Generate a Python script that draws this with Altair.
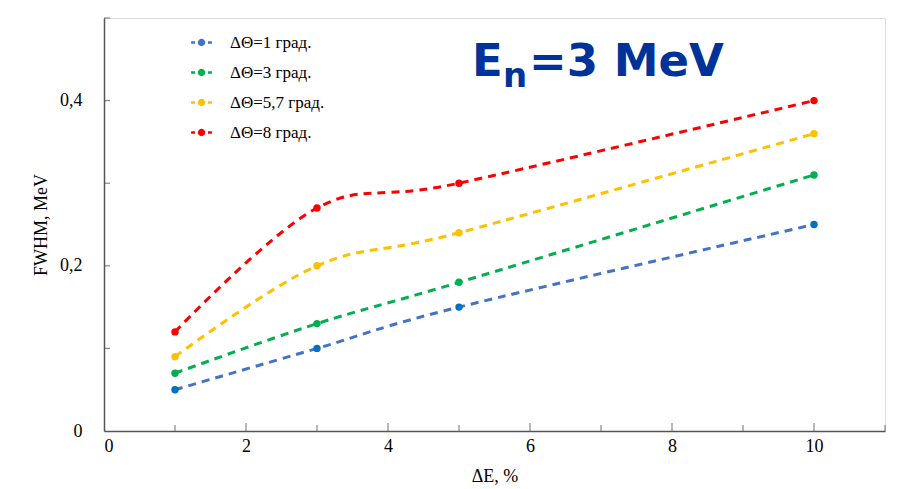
import altair as alt
import pandas as pd

series_names = ["ΔΘ=1 град.", "ΔΘ=3 град.", "ΔΘ=5,7 град.", "ΔΘ=8 град."]
delta_e = [1, 3, 5, 10]
fwhm_1 = [0.05, 0.10, 0.15, 0.25]
fwhm_3 = [0.07, 0.13, 0.18, 0.31]
fwhm_57 = [0.09, 0.20, 0.24, 0.36]
fwhm_8 = [0.12, 0.27, 0.30, 0.40]
line_colors = ["#4472C4", "#00B050", "#FFC000", "#FF0000"]
point_colors = ["#0070C0", "#00B050", "#FFC000", "#FF0000"]

x_major_ticks = [2, 4, 6, 8, 10]
x_minor_ticks = [1, 3, 5, 7, 9, 11]
y_ticks = [0.1, 0.2, 0.3, 0.4, 0.5]

rows = []
for name, vals in zip(series_names, [fwhm_1, fwhm_3, fwhm_57, fwhm_8]):
    for xv, yv in zip(delta_e, vals):
        rows.append({"series": name, "dE": xv, "fwhm": yv})
df = pd.DataFrame(rows)

W, H = 781, 413
SERIF = "Liberation Serif, Times New Roman, serif"

xscale = alt.Scale(domain=[0, 11], nice=False, zero=False)
yscale = alt.Scale(domain=[0, 0.5], nice=False)

legend_path = ("M-1.7,0H-1.05M-0.6,0H0.6M1.05,0H1.7"
               "M0.4,0A0.4,0.4,0,1,1,-0.4,0A0.4,0.4,0,1,1,0.4,0Z")

x_axis = alt.Axis(values=list(range(0, 12, 2)), ticks=False, grid=False, format="d",
                  labelFont=SERIF, labelFontSize=18, labelColor="#000",
                  labelPadding=6, domainColor="#555", domainWidth=1.5,
                  title="ΔE, %", titleFont=SERIF, titleFontSize=18,
                  titleFontWeight="normal", titleColor="#000", titlePadding=12)
y_axis = alt.Axis(values=[0, 0.2, 0.4], ticks=False, grid=False,
                  labelExpr="datum.value == 0 ? '0' : replace(format(datum.value, '.1f'), '.', ',')",
                  labelFont=SERIF, labelFontSize=18, labelColor="#000",
                  labelPadding=22, domainColor="#555", domainWidth=1.5,
                  title="FWHM, MeV", titleFont=SERIF, titleFontSize=18,
                  titleFontWeight="normal", titleColor="#000", titlePadding=9)

color = alt.Color("series:N", sort=series_names,
                  scale=alt.Scale(domain=series_names, range=line_colors),
                  legend=alt.Legend(orient="none", legendX=89, legendY=16,
                                    title=None, symbolType=legend_path,
                                    symbolSize=150, symbolStrokeWidth=2.5,
                                    labelFont=SERIF, labelFontSize=17,
                                    labelColor="#000", rowPadding=12,
                                    labelOffset=20))

base = alt.Chart(df)
lines = base.mark_line(interpolate="cardinal", strokeDash=[8, 6], strokeWidth=3).encode(
    x=alt.X("dE:Q", scale=xscale, axis=x_axis),
    y=alt.Y("fwhm:Q", scale=yscale, axis=y_axis),
    color=color,
    detail="series:N",
)
points = base.mark_circle(size=55, opacity=1).encode(
    x=alt.X("dE:Q", scale=xscale),
    y=alt.Y("fwhm:Q", scale=yscale),
    color=alt.Color("series:N", scale=alt.Scale(domain=series_names, range=point_colors),
                    legend=None),
)

xmaj = alt.Chart(pd.DataFrame({"t": x_major_ticks})).mark_tick(
    orient="vertical", size=8, thickness=1.2, color="#555", yOffset=-4).encode(
    x=alt.X("t:Q", scale=xscale), y=alt.datum(0, scale=yscale))
xmin = alt.Chart(pd.DataFrame({"t": x_minor_ticks})).mark_tick(
    orient="vertical", size=6, thickness=1.2, color="#555", yOffset=-3).encode(
    x=alt.X("t:Q", scale=xscale), y=alt.datum(0, scale=yscale))
yt = alt.Chart(pd.DataFrame({"t": y_ticks})).mark_tick(
    orient="horizontal", size=6, thickness=1.2, color="#555", xOffset=3).encode(
    y=alt.Y("t:Q", scale=yscale), x=alt.datum(0, scale=xscale))

title_e = alt.Chart(pd.DataFrame({"s": ["E"]})).mark_text(
    font="DejaVu Sans", fontWeight="bold", fontSize=45, color="#003399",
    align="left", baseline="alphabetic").encode(
    text="s:N", x=alt.value(368), y=alt.value(58))
title_n = alt.Chart(pd.DataFrame({"s": ["n"]})).mark_text(
    font="DejaVu Sans", fontWeight="bold", fontSize=34, color="#003399",
    align="left", baseline="alphabetic").encode(
    text="s:N", x=alt.value(399), y=alt.value(69))
title_rest = alt.Chart(pd.DataFrame({"s": ["=3 MeV"]})).mark_text(
    font="DejaVu Sans", fontWeight="bold", fontSize=45, color="#003399",
    align="left", baseline="alphabetic").encode(
    text="s:N", x=alt.value(425), y=alt.value(58))

chart = alt.layer(lines, points, xmaj, xmin, yt, title_e, title_n, title_rest).resolve_scale(
    color="independent"
).properties(
    width=W, height=H,
    autosize=alt.AutoSizeParams(type="none"),
    padding={"left": 104, "top": 18, "right": 24, "bottom": 58},
    background="white",
).configure_view(stroke=None).configure(font=SERIF)

chart.save("out.html", embed_options={"renderer": "svg", "actions": False})
